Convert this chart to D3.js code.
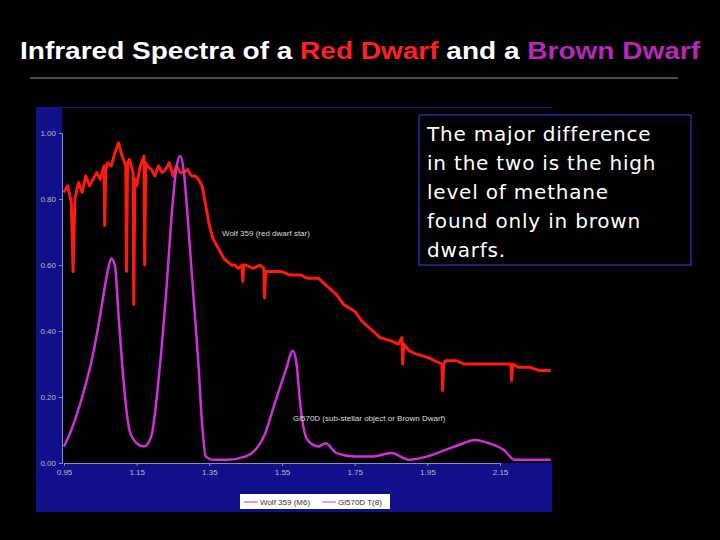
<!DOCTYPE html>
<html><head><meta charset="utf-8">
<script src="https://cdn.jsdelivr.net/npm/d3@7"></script>
<style>body{margin:0;background:#000}</style>
</head><body><div id="chart"></div>
<script>
// wavelength (micron) and relative flux
var redX = [0.95,0.96,0.97,0.975,0.98,0.99,1.00,1.01,1.02,1.03,1.04,1.05,1.06,1.062,1.065,1.07,1.08,1.09,1.10,1.11,1.12,1.122,1.125,1.13,1.14,1.142,1.145,1.15,1.16,1.17,1.172,1.175,1.18,1.19,1.20,1.21,1.22,1.23,1.24,1.25,1.26,1.27,1.28,1.29,1.30,1.31,1.32,1.33,1.34,1.35,1.36,1.37,1.38,1.39,1.40,1.41,1.42,1.43,1.44,1.442,1.445,1.45,1.47,1.49,1.50,1.502,1.505,1.51,1.53,1.55,1.57,1.60,1.62,1.65,1.67,1.70,1.72,1.75,1.77,1.80,1.82,1.85,1.87,1.88,1.882,1.885,1.90,1.92,1.95,1.97,1.99,1.992,1.995,2.00,2.03,2.05,2.08,2.10,2.13,2.15,2.18,2.182,2.185,2.20,2.23,2.26,2.29];
var redY = [0.82,0.84,0.79,0.58,0.80,0.85,0.82,0.87,0.84,0.86,0.88,0.86,0.90,0.72,0.89,0.91,0.90,0.94,0.97,0.93,0.90,0.58,0.91,0.92,0.88,0.48,0.86,0.84,0.90,0.93,0.60,0.91,0.90,0.89,0.87,0.90,0.88,0.89,0.91,0.87,0.90,0.88,0.88,0.89,0.87,0.87,0.86,0.84,0.78,0.72,0.68,0.66,0.64,0.62,0.61,0.60,0.60,0.59,0.60,0.55,0.60,0.60,0.59,0.60,0.59,0.50,0.58,0.58,0.58,0.58,0.57,0.57,0.56,0.56,0.54,0.51,0.48,0.46,0.43,0.40,0.38,0.37,0.36,0.38,0.30,0.36,0.34,0.33,0.32,0.31,0.30,0.22,0.30,0.31,0.31,0.30,0.30,0.30,0.30,0.30,0.30,0.25,0.30,0.29,0.29,0.28,0.28];
var magX = [0.95,0.97,1.00,1.03,1.05,1.07,1.08,1.09,1.10,1.11,1.12,1.13,1.15,1.17,1.19,1.21,1.23,1.25,1.26,1.27,1.28,1.29,1.30,1.31,1.32,1.33,1.34,1.36,1.40,1.45,1.50,1.53,1.56,1.58,1.59,1.60,1.62,1.65,1.67,1.70,1.75,1.80,1.85,1.90,1.95,2.00,2.05,2.08,2.12,2.16,2.19,2.25,2.29];
var magY = [0.05,0.10,0.20,0.33,0.45,0.58,0.62,0.60,0.45,0.30,0.18,0.10,0.06,0.05,0.08,0.25,0.50,0.80,0.90,0.93,0.88,0.75,0.60,0.45,0.30,0.12,0.02,0.01,0.01,0.02,0.08,0.18,0.28,0.34,0.30,0.18,0.07,0.05,0.06,0.03,0.02,0.02,0.03,0.01,0.02,0.04,0.06,0.07,0.06,0.04,0.01,0.01,0.01];
var xTicks = [0.95,1.15,1.35,1.55,1.75,1.95,2.15];
var yTicks = [0,0.2,0.4,0.6,0.8,1.0];
var noteLines = ["The major difference","in the two is the high","level of methane","found only in brown","dwarfs."];

var svg = d3.select("#chart").append("svg").attr("width",720).attr("height",540)
  .style("font-family","Arial, Liberation Sans, sans-serif");
svg.append("rect").attr("width",720).attr("height",540).attr("fill","#000");

var t = svg.append("text").attr("x",20).attr("y",59).attr("textLength",680).attr("lengthAdjust","spacingAndGlyphs")
  .attr("font-size",24).attr("font-weight","bold").attr("fill","#fff");
t.append("tspan").text("Infrared Spectra of a ");
t.append("tspan").attr("fill","#ff2020").text("Red Dwarf");
t.append("tspan").text(" and a ");
t.append("tspan").attr("fill","#b828b8").text("Brown Dwarf");
svg.append("line").attr("x1",30).attr("x2",678).attr("y1",78).attr("y2",78).attr("stroke","#999");

// panel
svg.append("rect").attr("x",36).attr("y",107).attr("width",516).attr("height",405).attr("fill","#10108a");
var x = d3.scaleLinear().domain([0.95,2.15]).range([64,500]);
var y = d3.scaleLinear().domain([0,1]).range([463,133]);
svg.append("rect").attr("x",62).attr("y",108).attr("width",490).attr("height",y(0)-108).attr("fill","#000");

var gx = svg.append("g").attr("transform","translate(0,"+y(0)+")")
  .call(d3.axisBottom(x).tickValues(xTicks).tickFormat(d3.format(".2f")).tickSize(3));
gx.select(".domain").attr("stroke","#8888cc");
gx.selectAll("text").attr("fill","#bbb").attr("font-size",8);
gx.selectAll("line").attr("stroke","#8888cc");
var gy = svg.append("g").attr("transform","translate(62,0)")
  .call(d3.axisLeft(y).tickValues(yTicks).tickFormat(d3.format(".2f")).tickSize(3));
gy.select(".domain").attr("stroke","#8888cc");
gy.selectAll("text").attr("fill","#bbb").attr("font-size",8);
gy.selectAll("line").attr("stroke","#8888cc");

var line = d3.line().x(function(d){return x(d[0]);}).y(function(d){return y(d[1]);});
svg.append("path").datum(d3.zip(redX,redY)).attr("d",line)
  .attr("fill","none").attr("stroke","#ff1a0a").attr("stroke-width",3).attr("stroke-linejoin","round");
svg.append("path").datum(d3.zip(magX,magY)).attr("d",line.curve(d3.curveMonotoneX))
  .attr("fill","none").attr("stroke","#d030d8").attr("stroke-width",2.5);

svg.append("text").attr("x",222).attr("y",236).attr("fill","#ddd").attr("font-size",8).text("Wolf 359 (red dwarf star)");
svg.append("text").attr("x",293).attr("y",421).attr("fill","#ddd").attr("font-size",8).text("Gl570D (sub-stellar object or Brown Dwarf)");

// legend
svg.append("rect").attr("x",240).attr("y",494).attr("width",150).attr("height",15).attr("fill","#fff");
svg.append("line").attr("x1",244).attr("x2",258).attr("y1",502).attr("y2",502).attr("stroke","#c44");
svg.append("text").attr("x",260).attr("y",505).attr("font-size",8).attr("fill","#333").text("Wolf 359 (M6)");
svg.append("line").attr("x1",322).attr("x2",336).attr("y1",502).attr("y2",502).attr("stroke","#c4c");
svg.append("text").attr("x",338).attr("y",505).attr("font-size",8).attr("fill","#333").text("Gl570D  T(8)");

// note box
svg.append("rect").attr("x",419).attr("y",115).attr("width",272).attr("height",150)
  .attr("fill","#000").attr("stroke","#2a2aa0").attr("stroke-width",1.5);
svg.append("g").selectAll("text").data(noteLines).join("text")
  .attr("x",427).attr("y",function(d,i){return 141+i*29;})
  .attr("fill","#fff").attr("font-size",20).attr("font-family","DejaVu Sans, sans-serif")
  .attr("letter-spacing",0.8).text(function(d){return d;});
</script></body></html>
